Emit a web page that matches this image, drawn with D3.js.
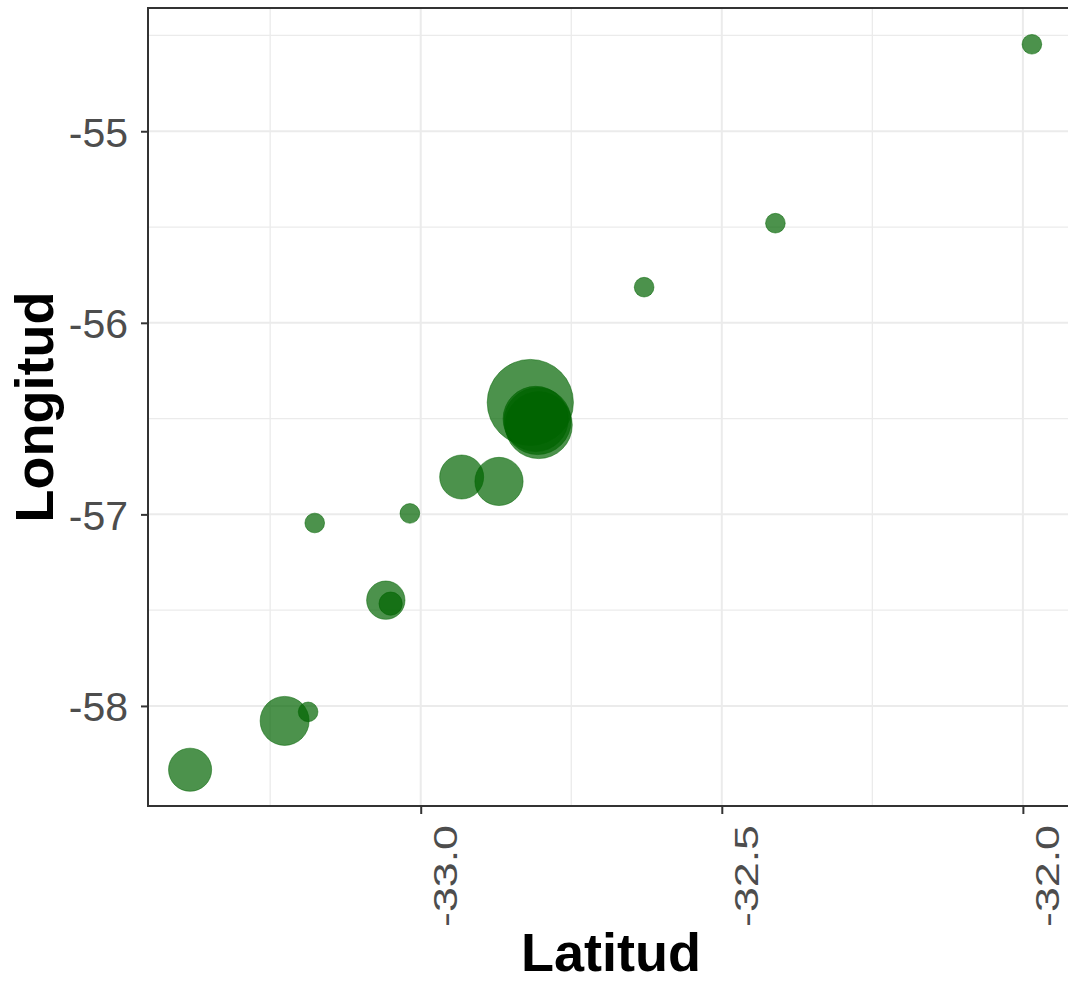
<!DOCTYPE html>
<html>
<head>
<meta charset="utf-8">
<script src="https://cdn.jsdelivr.net/npm/d3@7"></script>
<style>
  html, body { margin: 0; padding: 0; background: #ffffff; }
  svg { display: block; }
</style>
</head>
<body>
<svg id="chart" width="1068" height="982"></svg>
<script>
// ---- data ----
const latitud  = [-31.985, -32.411, -32.629, -32.818, -32.806, -32.804, -32.809, -32.932, -32.870, -33.018, -33.176, -33.058, -33.050, -33.226, -33.187, -33.383];
const longitud = [-54.546, -55.480, -55.814, -56.416, -56.513, -56.534, -56.502, -56.805, -56.828, -56.995, -57.045, -57.448, -57.466, -58.078, -58.031, -58.333];
const tamano   = [5, 5, 5, 96, 58, 58, 55, 25, 30, 5, 5, 19, 7, 31, 5, 24];
const xTicks = [-33.0, -32.5, -32.0];
const xMinor = [-33.25, -32.75, -32.25];
const yTicks = [-58, -57, -56, -55];
const yMinor = [-57.5, -56.5, -55.5, -54.5];
const xTitle = "Latitud";
const yTitle = "Longitud";

const points = latitud.map((d, i) => ({ lat: d, lon: longitud[i], s: tamano[i] }));

const svg = d3.select("#chart");
const panel = { left: 148, top: 8, right: 1074, bottom: 806 };

function expand(ext, f) { const r = ext[1] - ext[0]; return [ext[0] - r * f, ext[1] + r * f]; }
const hyphen = f => d => f(d).replace("\u2212", "-");

const x = d3.scaleLinear().domain(expand(d3.extent(latitud), 0.05)).range([panel.left, panel.right]);
const y = d3.scaleLinear().domain(expand(d3.extent(longitud), 0.05)).range([panel.bottom, panel.top]);
const r = d3.scaleSqrt().domain([0, 100]).range([0, 44]);

const grid = svg.append("g");
// minor grid
grid.selectAll("line.xm").data(xMinor).join("line")
  .attr("x1", d => x(d)).attr("x2", d => x(d)).attr("y1", panel.top).attr("y2", panel.bottom)
  .attr("stroke", "#EBEBEB").attr("stroke-width", 1.3);
grid.selectAll("line.ym").data(yMinor).join("line")
  .attr("y1", d => y(d)).attr("y2", d => y(d)).attr("x1", panel.left).attr("x2", panel.right)
  .attr("stroke", "#EBEBEB").attr("stroke-width", 1.3);
// major grid
grid.selectAll("line.xM").data(xTicks).join("line")
  .attr("x1", d => x(d)).attr("x2", d => x(d)).attr("y1", panel.top).attr("y2", panel.bottom)
  .attr("stroke", "#EBEBEB").attr("stroke-width", 2);
grid.selectAll("line.yM").data(yTicks).join("line")
  .attr("y1", d => y(d)).attr("y2", d => y(d)).attr("x1", panel.left).attr("x2", panel.right)
  .attr("stroke", "#EBEBEB").attr("stroke-width", 2);

// points
svg.append("g").selectAll("circle").data(points).join("circle")
  .attr("cx", d => x(d.lat)).attr("cy", d => y(d.lon)).attr("r", d => r(d.s))
  .attr("fill", "#006400").attr("fill-opacity", 0.7)
  .attr("stroke", "#006400").attr("stroke-opacity", 0.5).attr("stroke-width", 1);

// panel border
svg.append("rect")
  .attr("x", panel.left).attr("y", panel.top)
  .attr("width", panel.right - panel.left).attr("height", panel.bottom - panel.top)
  .attr("fill", "none").attr("stroke", "#333333").attr("stroke-width", 2);

// x axis
const xAxis = d3.axisBottom(x).tickValues(xTicks).tickSize(8).tickFormat(hyphen(d3.format(".1f")));
const gx = svg.append("g").attr("transform", `translate(0,${panel.bottom})`).call(xAxis);
gx.select(".domain").remove();
gx.selectAll(".tick line").attr("stroke", "#333333").attr("stroke-width", 2);
gx.selectAll(".tick text")
  .attr("fill", "#4D4D4D")
  .style("font-family", "'Liberation Sans', Arial, sans-serif")
  .style("font-size", "33.5px")
  .attr("text-anchor", "end")
  .attr("textLength", 102).attr("lengthAdjust", "spacingAndGlyphs")
  .attr("dy", null).attr("y", 0)
  .attr("transform", "translate(36,19) rotate(-90)");

// y axis
const yAxis = d3.axisLeft(y).tickValues(yTicks).tickSize(7).tickFormat(hyphen(d3.format("d")));
const gy = svg.append("g").attr("transform", `translate(${panel.left},0)`).call(yAxis);
gy.select(".domain").remove();
gy.selectAll(".tick line").attr("stroke", "#333333").attr("stroke-width", 2);
gy.selectAll(".tick text")
  .attr("fill", "#4D4D4D")
  .style("font-family", "'Liberation Sans', Arial, sans-serif")
  .style("font-size", "41px")
  .attr("x", -20).attr("dy", "0.36em");

// titles
svg.append("text")
  .attr("x", (panel.left + panel.right) / 2).attr("y", 971)
  .attr("text-anchor", "middle")
  .style("font-family", "'Liberation Sans', Arial, sans-serif")
  .style("font-weight", "bold").style("font-size", "54px")
  .attr("fill", "#000000").text(xTitle);

svg.append("text")
  .attr("transform", `translate(53,${(panel.top + panel.bottom) / 2}) rotate(-90)`)
  .attr("text-anchor", "middle")
  .style("font-family", "'Liberation Sans', Arial, sans-serif")
  .style("font-weight", "bold").style("font-size", "54px")
  .attr("fill", "#000000").text(yTitle);
</script>
</body>
</html>
